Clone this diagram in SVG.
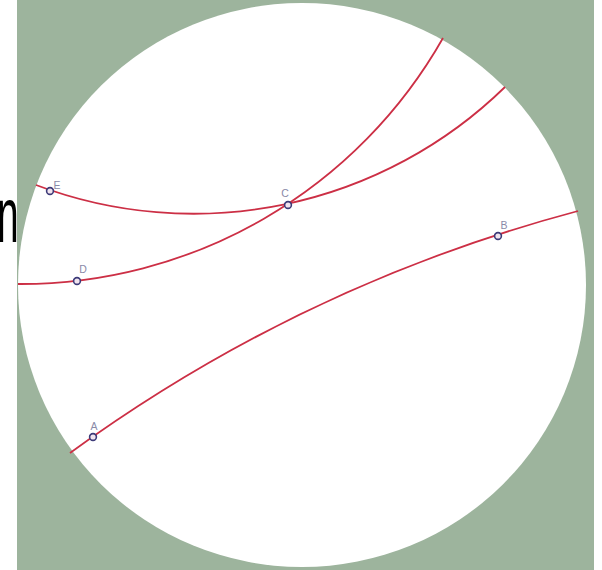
<svg xmlns="http://www.w3.org/2000/svg" width="602" height="570" viewBox="0 0 602 570">
<style>
.geo{fill:none;stroke:#cc2f45;stroke-width:1.8}
.pt{fill:#f0e4ee;stroke:#3c3a78;stroke-width:1.6}
.lbl{font-family:"Liberation Sans",Arial,sans-serif;font-size:10.5px;fill:#8a8aa8;text-anchor:middle}
</style>
<rect width="602" height="570" fill="#ffffff"/>
<text transform="translate(-3,242) scale(0.5,1)" font-family="Liberation Sans, Arial, sans-serif" font-size="78" fill="#000">n</text>
<rect id="background" x="17" y="0" width="577" height="570" fill="#9db49d"/>
<ellipse id="disk" cx="302" cy="285" rx="284" ry="282" fill="#ffffff"/>
<g id="connectors">
<path class="geo" d="M70,453 A1534,1534 0 0,1 578,211"/>
<path class="geo" d="M18,284 A485.5,485.5 0 0,0 443,38"/>
<path class="geo" d="M36,185 A446,446 0 0,0 505,87"/>
</g>
<g id="A"><circle class="pt" cx="93" cy="437" r="3.4"/><text class="lbl" x="94" y="430">A</text></g>
<g id="B"><circle class="pt" cx="498" cy="236" r="3.4"/><text class="lbl" x="504" y="229">B</text></g>
<g id="C"><circle class="pt" cx="288" cy="205" r="3.4"/><text class="lbl" x="285" y="197">C</text></g>
<g id="D"><circle class="pt" cx="77" cy="281" r="3.4"/><text class="lbl" x="83" y="273">D</text></g>
<g id="E"><circle class="pt" cx="50" cy="191" r="3.4"/><text class="lbl" x="57" y="189">E</text></g>
</svg>
